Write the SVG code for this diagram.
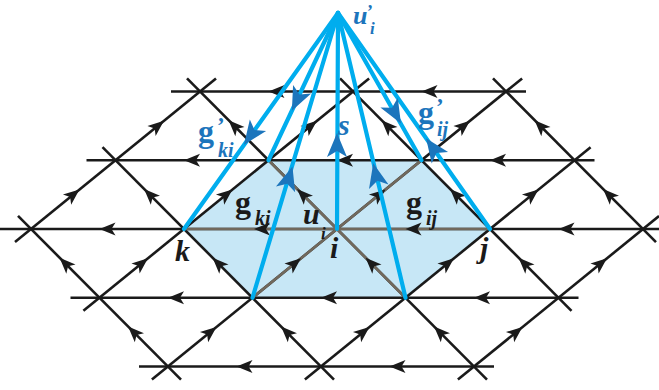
<svg xmlns="http://www.w3.org/2000/svg" xmlns:xlink="http://www.w3.org/1999/xlink" width="659" height="390" viewBox="0 0 659 390">
<style>
.lat{stroke:#1a1a1a;stroke-width:2.6;fill:none;stroke-linecap:butt}
.spk{stroke:#71695d;stroke-width:2.6;fill:none}
.blu{stroke:#00adee;stroke-width:4.2;fill:none;stroke-linecap:round}
.ah{fill:#1a1a1a}
.bh{fill:#1c75bc}
text{font-family:"Liberation Serif","Times New Roman",serif;font-weight:bold}
.it{font-style:italic}
.bk{fill:#1a1a1a}
.bt{fill:#1c75bc}
</style>
<defs>
<path id="a" d="M8,0 L-8,-6.5 L-4,0 L-8,6.5 Z"/>
<path id="b" d="M12,0 L-12,-10 L-6,0 L-12,10 Z"/>
</defs>
<rect width="659" height="390" fill="#ffffff"/>
<g id="cell">
<polygon points="184,229 268.5,160.25 421.5,160.25 490,229 405.5,297.75 252.5,297.75" fill="#c7e7f6"/>
</g>
<g id="connectors">
<g id="lattice">
<line class="lat" x1="171" y1="91.5" x2="526" y2="91.5"/>
<line class="lat" x1="86.5" y1="160.25" x2="594.5" y2="160.25"/>
<line class="lat" x1="0" y1="229" x2="659" y2="229"/>
<line class="lat" x1="70.5" y1="297.75" x2="578.5" y2="297.75"/>
<line class="lat" x1="139" y1="366.5" x2="494" y2="366.5"/>
<line class="lat" x1="15" y1="242.1" x2="216" y2="78.4"/>
<line class="lat" x1="83.4" y1="310.8" x2="369.1" y2="78.4"/>
<line class="lat" x1="151.9" y1="379.6" x2="522.1" y2="78.4"/>
<line class="lat" x1="304.9" y1="379.6" x2="590.6" y2="147.2"/>
<line class="lat" x1="457.9" y1="379.6" x2="659" y2="216"/>
<line class="lat" x1="181" y1="379.6" x2="18" y2="215.9"/>
<line class="lat" x1="334" y1="379.6" x2="102.5" y2="147.2"/>
<line class="lat" x1="487" y1="379.6" x2="187" y2="78.4"/>
<line class="lat" x1="571.5" y1="310.8" x2="340" y2="78.4"/>
<line class="lat" x1="656" y1="242.1" x2="493" y2="78.4"/>
</g>
<g id="spokes">
<line class="spk" x1="337" y1="229" x2="184" y2="229"/>
<line class="spk" x1="337" y1="229" x2="490" y2="229"/>
<line class="spk" x1="337" y1="229" x2="268.5" y2="160.25"/>
<line class="spk" x1="337" y1="229" x2="405.5" y2="297.75"/>
<line class="spk" x1="337" y1="229" x2="421.5" y2="160.25"/>
<line class="spk" x1="337" y1="229" x2="252.5" y2="297.75"/>
</g>
<g id="arrows" class="ah">
<use xlink:href="#a" transform="translate(276.5,91.5) rotate(180)"/>
<use xlink:href="#a" transform="translate(429.5,91.5) rotate(180)"/>
<use xlink:href="#a" transform="translate(192,160.25) rotate(180)"/>
<use xlink:href="#a" transform="translate(345,160.25) rotate(180)"/>
<use xlink:href="#a" transform="translate(498,160.25) rotate(180)"/>
<use xlink:href="#a" transform="translate(107.5,229) rotate(180)"/>
<use xlink:href="#a" transform="translate(262,229) rotate(180)"/>
<use xlink:href="#a" transform="translate(413.5,229) rotate(180)"/>
<use xlink:href="#a" transform="translate(566.5,229) rotate(180)"/>
<use xlink:href="#a" transform="translate(176,297.75) rotate(180)"/>
<use xlink:href="#a" transform="translate(329,297.75) rotate(180)"/>
<use xlink:href="#a" transform="translate(482,297.75) rotate(180)"/>
<use xlink:href="#a" transform="translate(244.5,366.5) rotate(180)"/>
<use xlink:href="#a" transform="translate(397.5,366.5) rotate(180)"/>
<use xlink:href="#a" transform="translate(73.25,194.6) rotate(-39.1)"/>
<use xlink:href="#a" transform="translate(157.75,125.9) rotate(-39.1)"/>
<use xlink:href="#a" transform="translate(141.75,263.4) rotate(-39.1)"/>
<use xlink:href="#a" transform="translate(226.25,194.6) rotate(-39.1)"/>
<use xlink:href="#a" transform="translate(310.75,125.9) rotate(-39.1)"/>
<use xlink:href="#a" transform="translate(210.25,332.1) rotate(-39.1)"/>
<use xlink:href="#a" transform="translate(294.75,263.4) rotate(-39.1)"/>
<use xlink:href="#a" transform="translate(379.25,194.6) rotate(-39.1)"/>
<use xlink:href="#a" transform="translate(463.75,125.9) rotate(-39.1)"/>
<use xlink:href="#a" transform="translate(363.25,332.1) rotate(-39.1)"/>
<use xlink:href="#a" transform="translate(447.75,263.4) rotate(-39.1)"/>
<use xlink:href="#a" transform="translate(532.25,194.6) rotate(-39.1)"/>
<use xlink:href="#a" transform="translate(516.25,332.1) rotate(-39.1)"/>
<use xlink:href="#a" transform="translate(600.75,263.4) rotate(-39.1)"/>
<use xlink:href="#a" transform="translate(133.75,332.1) rotate(-135)"/>
<use xlink:href="#a" transform="translate(65.25,263.4) rotate(-135)"/>
<use xlink:href="#a" transform="translate(286.75,332.1) rotate(-135)"/>
<use xlink:href="#a" transform="translate(218.25,263.4) rotate(-135)"/>
<use xlink:href="#a" transform="translate(149.75,194.6) rotate(-135)"/>
<use xlink:href="#a" transform="translate(439.75,332.1) rotate(-135)"/>
<use xlink:href="#a" transform="translate(371.25,263.4) rotate(-135)"/>
<use xlink:href="#a" transform="translate(302.75,194.6) rotate(-135)"/>
<use xlink:href="#a" transform="translate(234.25,125.9) rotate(-135)"/>
<use xlink:href="#a" transform="translate(524.25,263.4) rotate(-135)"/>
<use xlink:href="#a" transform="translate(455.75,194.6) rotate(-135)"/>
<use xlink:href="#a" transform="translate(387.25,125.9) rotate(-135)"/>
<use xlink:href="#a" transform="translate(608.75,194.6) rotate(-135)"/>
<use xlink:href="#a" transform="translate(540.25,125.9) rotate(-135)"/>
</g>
</g>
<g id="label-gki" class="bk"><text x="235" y="213" font-size="32">g</text><text x="255" y="225" font-size="20" class="it">ki</text></g>
<g id="label-gij" class="bk"><text x="406" y="213" font-size="32">g</text><text x="426" y="225" font-size="20" class="it">ij</text></g>
<g id="node-ui" class="bk"><text x="303" y="224" font-size="30" class="it">u</text><text x="321" y="239" font-size="17" class="it">i</text></g>
<g id="node-k" class="bk"><text x="175" y="261" font-size="30" class="it">k</text></g>
<g id="node-i" class="bk"><text x="330" y="258" font-size="30" class="it">i</text></g>
<g id="node-j" class="bk"><text x="480" y="258" font-size="30" class="it">j</text></g>
<g id="blue-connectors">
<line class="blu" x1="338" y1="13" x2="184" y2="229"/>
<line class="blu" x1="338" y1="13" x2="268.5" y2="160.25"/>
<line class="blu" x1="338" y1="13" x2="252.5" y2="297.75"/>
<line class="blu" x1="338" y1="13" x2="337" y2="229"/>
<line class="blu" x1="338" y1="13" x2="405.5" y2="297.75"/>
<line class="blu" x1="338" y1="13" x2="421.5" y2="160.25"/>
<line class="blu" x1="338" y1="13" x2="490" y2="229"/>
<g class="bh">
<use xlink:href="#b" transform="translate(251,135) rotate(125.5)"/>
<use xlink:href="#b" transform="translate(297,100) rotate(115.3)"/>
<use xlink:href="#b" transform="translate(395,113) rotate(60.45)"/>
<use xlink:href="#b" transform="translate(433,148) rotate(-125.1)"/>
<use xlink:href="#b" transform="translate(376,175) rotate(-103.3)"/>
<use xlink:href="#b" transform="translate(337,145) rotate(-90)"/>
<use xlink:href="#b" transform="translate(289,178) rotate(-73.3)"/>
</g>
</g>
<g id="node-uprime" class="bt"><text x="353" y="24" font-size="26" class="it">u</text><text x="367" y="18" font-size="18">’</text><text x="370" y="34" font-size="17" class="it">i</text></g>
<g id="label-gprime-ki" class="bt"><text x="198" y="142" font-size="32">g</text><text x="217" y="133" font-size="23">’</text><text x="218" y="157" font-size="20" class="it">ki</text></g>
<g id="label-s" class="bt"><text x="338" y="135" font-size="30" class="it">s</text></g>
<g id="label-gprime-ij" class="bt"><text x="418" y="123" font-size="32">g</text><text x="436" y="114" font-size="23">’</text><text x="437" y="136" font-size="20" class="it">ij</text></g>
</svg>
